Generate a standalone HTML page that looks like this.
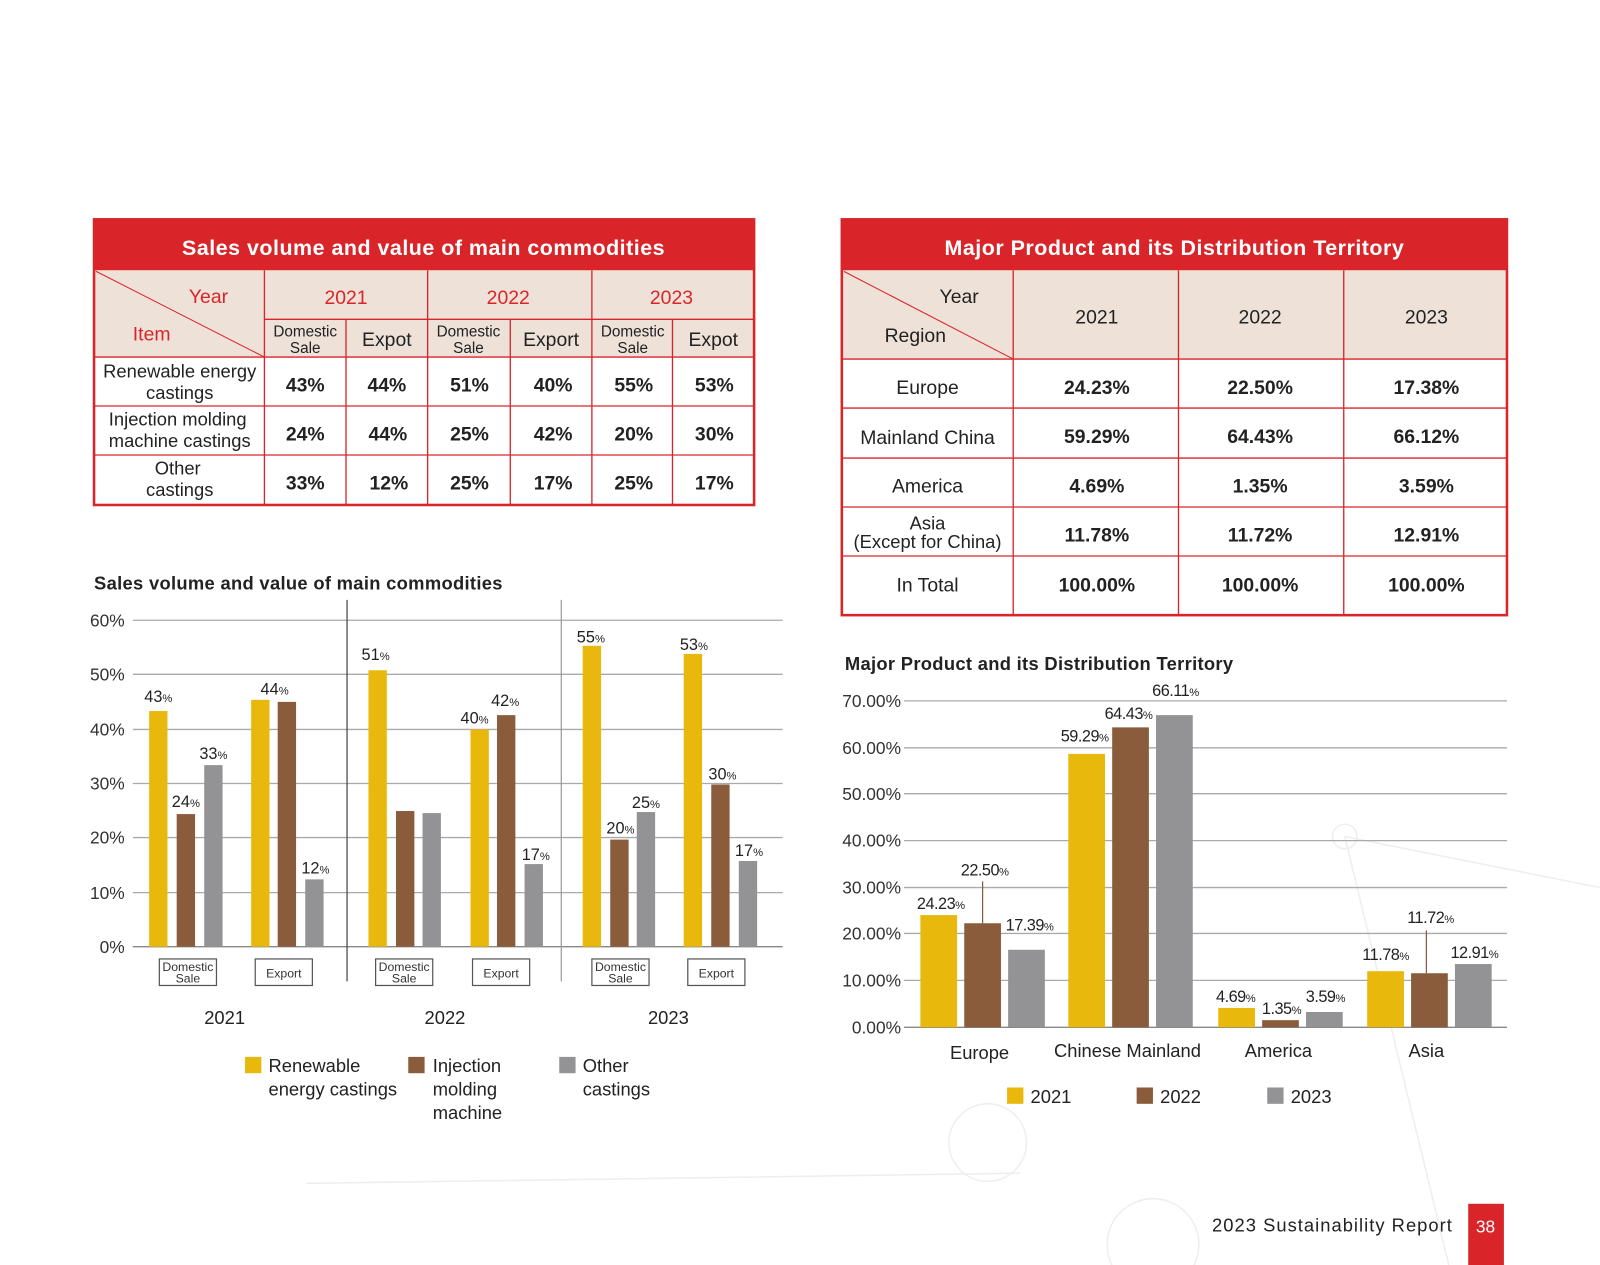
<!DOCTYPE html>
<html><head><meta charset="utf-8"><style>
html,body{margin:0;padding:0;background:#fff;}
svg{display:block;}
text{font-family:"Liberation Sans",sans-serif;}
</style></head><body>
<svg width="1600" height="1265" viewBox="0 0 1568 1240" xmlns="http://www.w3.org/2000/svg">
<rect width="1568" height="1240" fill="#fff"/>
<!-- faint background decoration -->
<g stroke="#eee" fill="none" stroke-width="1.5">
<circle cx="968" cy="1120" r="38"/><circle cx="1130" cy="1220" r="45"/><circle cx="1318" cy="820" r="12"/>
<line x1="1318" y1="820" x2="1568" y2="870"/><line x1="1318" y1="820" x2="1420" y2="1240"/>
<line x1="300" y1="1160" x2="1000" y2="1150"/>
</g>
<!-- TABLE 1 -->
<g>
<rect x="92" y="215" width="647" height="50" fill="#D9252A"/>
<text x="415" y="250" font-size="21" font-weight="bold" fill="#fff" text-anchor="middle" letter-spacing="0.5">Sales volume and value of main commodities</text>
<rect x="92" y="265" width="647" height="85" fill="#EEE1D7"/>
<rect x="92" y="350" width="647" height="145" fill="#fff"/>
<g stroke="#D9252A" stroke-width="1.3" fill="none">
<rect x="92" y="215" width="647" height="280" stroke-width="2.5"/>
<line x1="259" y1="265" x2="259" y2="495"/>
<line x1="419" y1="265" x2="419" y2="495"/>
<line x1="580" y1="265" x2="580" y2="495"/>
<line x1="339" y1="313" x2="339" y2="495"/>
<line x1="500" y1="313" x2="500" y2="495"/>
<line x1="659" y1="313" x2="659" y2="495"/>
<line x1="259" y1="313" x2="739" y2="313"/>
<line x1="92" y1="350" x2="739" y2="350"/>
<line x1="92" y1="398" x2="739" y2="398"/>
<line x1="92" y1="446" x2="739" y2="446"/>
<line x1="94" y1="266" x2="259" y2="350" stroke-width="1"/>
</g>
<g font-size="19" fill="#D9252A">
<text x="185" y="297">Year</text><text x="130" y="334">Item</text>
<text x="339" y="298" text-anchor="middle">2021</text>
<text x="498" y="298" text-anchor="middle">2022</text>
<text x="658" y="298" text-anchor="middle">2023</text>
</g>
<g fill="#222" text-anchor="middle">
<text x="299" y="330" font-size="15">Domestic</text><text x="299" y="346" font-size="15">Sale</text>
<text x="379" y="339" font-size="19">Expot</text>
<text x="459" y="330" font-size="15">Domestic</text><text x="459" y="346" font-size="15">Sale</text>
<text x="540" y="339" font-size="19">Export</text>
<text x="620" y="330" font-size="15">Domestic</text><text x="620" y="346" font-size="15">Sale</text>
<text x="699" y="339" font-size="19">Expot</text>
<g font-size="18">
<text x="176" y="370">Renewable energy</text><text x="176" y="391">castings</text>
<text x="174" y="417">Injection molding</text><text x="176" y="438">machine castings</text>
<text x="174" y="465">Other</text><text x="176" y="486">castings</text>
</g>
<g font-size="19" font-weight="bold">
<text x="299" y="384">43%</text><text x="379" y="384">44%</text><text x="460" y="384">51%</text><text x="542" y="384">40%</text><text x="621" y="384">55%</text><text x="700" y="384">53%</text>
<text x="299" y="432">24%</text><text x="380" y="432">44%</text><text x="460" y="432">25%</text><text x="542" y="432">42%</text><text x="621" y="432">20%</text><text x="700" y="432">30%</text>
<text x="299" y="480">33%</text><text x="381" y="480">12%</text><text x="460" y="480">25%</text><text x="542" y="480">17%</text><text x="621" y="480">25%</text><text x="700" y="480">17%</text>
</g>
</g>
</g>
<!-- TABLE 2 -->
<g>
<rect x="825" y="215" width="652" height="50" fill="#D9252A"/>
<text x="1151" y="250" font-size="21" font-weight="bold" fill="#fff" text-anchor="middle" letter-spacing="0.5">Major Product and its Distribution Territory</text>
<rect x="825" y="265" width="652" height="87" fill="#EEE1D7"/>
<rect x="825" y="352" width="652" height="251" fill="#fff"/>
<g stroke="#D9252A" stroke-width="1.3" fill="none">
<rect x="825" y="215" width="652" height="388" stroke-width="2.5"/>
<line x1="993" y1="265" x2="993" y2="603"/>
<line x1="1155" y1="265" x2="1155" y2="603"/>
<line x1="1317" y1="265" x2="1317" y2="603"/>
<line x1="825" y1="352" x2="1477" y2="352"/>
<line x1="825" y1="400" x2="1477" y2="400"/>
<line x1="825" y1="449" x2="1477" y2="449"/>
<line x1="825" y1="497" x2="1477" y2="497"/>
<line x1="825" y1="545" x2="1477" y2="545"/>
<line x1="827" y1="266" x2="993" y2="352" stroke-width="1"/>
</g>
<g fill="#222" text-anchor="middle" font-size="19">
<text x="940" y="297">Year</text><text x="897" y="335">Region</text>
<text x="1075" y="317">2021</text><text x="1235" y="317">2022</text><text x="1398" y="317">2023</text>
<text x="909" y="386">Europe</text><text x="909" y="435">Mainland China</text><text x="909" y="483">America</text>
<text x="909" y="519" font-size="18">Asia</text><text x="909" y="537" font-size="18">(Except for China)</text>
<text x="909" y="580">In Total</text>
<g font-weight="bold">
<text x="1075" y="386">24.23%</text><text x="1235" y="386">22.50%</text><text x="1398" y="386">17.38%</text>
<text x="1075" y="434">59.29%</text><text x="1235" y="434">64.43%</text><text x="1398" y="434">66.12%</text>
<text x="1075" y="483">4.69%</text><text x="1235" y="483">1.35%</text><text x="1398" y="483">3.59%</text>
<text x="1075" y="531">11.78%</text><text x="1235" y="531">11.72%</text><text x="1398" y="531">12.91%</text>
<text x="1075" y="580">100.00%</text><text x="1235" y="580">100.00%</text><text x="1398" y="580">100.00%</text>
</g>
</g>
</g>
<!-- CHART 1 -->
<text x="92" y="578" font-size="18" font-weight="bold" fill="#222" letter-spacing="0.3">Sales volume and value of main commodities</text>
<g stroke="#aaa" stroke-width="1.3">
<line x1="130" y1="608" x2="767" y2="608"/><line x1="130" y1="661" x2="767" y2="661"/><line x1="130" y1="715" x2="767" y2="715"/>
<line x1="130" y1="768" x2="767" y2="768"/><line x1="130" y1="821" x2="767" y2="821"/><line x1="130" y1="875" x2="767" y2="875"/>
<line x1="130" y1="928" x2="767" y2="928" stroke="#888"/>
</g>
<line x1="340" y1="588" x2="340" y2="962" stroke="#444" stroke-width="1.2"/>
<line x1="550" y1="588" x2="550" y2="962" stroke="#999" stroke-width="1.2"/>
<g font-size="17" fill="#333" text-anchor="end">
<text x="122" y="614">60%</text><text x="122" y="667">50%</text><text x="122" y="721">40%</text><text x="122" y="774">30%</text><text x="122" y="827">20%</text><text x="122" y="881">10%</text><text x="122" y="934">0%</text>
</g>
<g>
<rect x="146" y="697" width="18" height="231" fill="#E9B80C"/><rect x="173" y="798" width="18" height="130" fill="#8B5C3B"/><rect x="200" y="750" width="18" height="178" fill="#939396"/>
<rect x="246" y="686" width="18" height="242" fill="#E9B80C"/><rect x="272" y="688" width="18" height="240" fill="#8B5C3B"/><rect x="299" y="862" width="18" height="66" fill="#939396"/>
<rect x="361" y="657" width="18" height="271" fill="#E9B80C"/><rect x="388" y="795" width="18" height="133" fill="#8B5C3B"/><rect x="414" y="797" width="18" height="131" fill="#939396"/>
<rect x="461" y="715" width="18" height="213" fill="#E9B80C"/><rect x="487" y="701" width="18" height="227" fill="#8B5C3B"/><rect x="514" y="847" width="18" height="81" fill="#939396"/>
<rect x="571" y="633" width="18" height="295" fill="#E9B80C"/><rect x="598" y="823" width="18" height="105" fill="#8B5C3B"/><rect x="624" y="796" width="18" height="132" fill="#939396"/>
<rect x="670" y="641" width="18" height="287" fill="#E9B80C"/><rect x="697" y="769" width="18" height="159" fill="#8B5C3B"/><rect x="724" y="844" width="18" height="84" fill="#939396"/>
</g>
<g font-size="16" fill="#222" text-anchor="middle">
<text x="155" y="688">43<tspan font-size="11">%</tspan></text>
<text x="182" y="791">24<tspan font-size="11">%</tspan></text>
<text x="209" y="744">33<tspan font-size="11">%</tspan></text>
<text x="269" y="681">44<tspan font-size="11">%</tspan></text>
<text x="309" y="856">12<tspan font-size="11">%</tspan></text>
<text x="368" y="647">51<tspan font-size="11">%</tspan></text>
<text x="465" y="709">40<tspan font-size="11">%</tspan></text>
<text x="495" y="692">42<tspan font-size="11">%</tspan></text>
<text x="525" y="843">17<tspan font-size="11">%</tspan></text>
<text x="579" y="630">55<tspan font-size="11">%</tspan></text>
<text x="608" y="817">20<tspan font-size="11">%</tspan></text>
<text x="633" y="792">25<tspan font-size="11">%</tspan></text>
<text x="680" y="637">53<tspan font-size="11">%</tspan></text>
<text x="708" y="764">30<tspan font-size="11">%</tspan></text>
<text x="734" y="839">17<tspan font-size="11">%</tspan></text>
</g>
<g fill="#fff" stroke="#555" stroke-width="1.2">
<rect x="156" y="940" width="56" height="26"/><rect x="250" y="940" width="56" height="26"/>
<rect x="368" y="940" width="56" height="26"/><rect x="463" y="940" width="56" height="26"/>
<rect x="580" y="940" width="56" height="26"/><rect x="674" y="940" width="56" height="26"/>
</g>
<g font-size="12" fill="#333" text-anchor="middle">
<text x="184" y="952">Domestic</text><text x="184" y="963">Sale</text><text x="278" y="958">Export</text>
<text x="396" y="952">Domestic</text><text x="396" y="963">Sale</text><text x="491" y="958">Export</text>
<text x="608" y="952">Domestic</text><text x="608" y="963">Sale</text><text x="702" y="958">Export</text>
</g>
<g font-size="18" fill="#222" text-anchor="middle">
<text x="220" y="1004">2021</text><text x="436" y="1004">2022</text><text x="655" y="1004">2023</text>
</g>
<rect x="240" y="1036" width="16" height="16" fill="#E9B80C"/>
<rect x="400" y="1036" width="16" height="16" fill="#8B5C3B"/>
<rect x="548" y="1036" width="16" height="16" fill="#939396"/>
<g font-size="18" fill="#222">
<text x="263" y="1051">Renewable</text><text x="263" y="1074">energy castings</text>
<text x="424" y="1051">Injection</text><text x="424" y="1074">molding</text><text x="424" y="1097">machine</text>
<text x="571" y="1051">Other</text><text x="571" y="1074">castings</text>
</g>
<!-- CHART 2 -->
<text x="828" y="657" font-size="18" font-weight="bold" fill="#222" letter-spacing="0.3">Major Product and its Distribution Territory</text>
<g stroke="#aaa" stroke-width="1.3">
<line x1="886" y1="687" x2="1477" y2="687"/><line x1="886" y1="733" x2="1477" y2="733"/><line x1="886" y1="778" x2="1477" y2="778"/>
<line x1="886" y1="824" x2="1477" y2="824"/><line x1="886" y1="870" x2="1477" y2="870"/><line x1="886" y1="915" x2="1477" y2="915"/>
<line x1="886" y1="961" x2="1477" y2="961"/><line x1="886" y1="1007" x2="1477" y2="1007" stroke="#888"/>
</g>
<g font-size="17" fill="#333" text-anchor="end">
<text x="883" y="693">70.00%</text><text x="883" y="739">60.00%</text><text x="883" y="784">50.00%</text><text x="883" y="830">40.00%</text>
<text x="883" y="876">30.00%</text><text x="883" y="921">20.00%</text><text x="883" y="967">10.00%</text><text x="883" y="1013">0.00%</text>
</g>
<g>
<rect x="902" y="897" width="36" height="110" fill="#E9B80C"/><rect x="945" y="905" width="36" height="102" fill="#8B5C3B"/><rect x="988" y="931" width="36" height="76" fill="#939396"/>
<rect x="1047" y="739" width="36" height="268" fill="#E9B80C"/><rect x="1090" y="713" width="36" height="294" fill="#8B5C3B"/><rect x="1133" y="701" width="36" height="306" fill="#939396"/>
<rect x="1194" y="988" width="36" height="19" fill="#E9B80C"/><rect x="1237" y="1000" width="36" height="7" fill="#8B5C3B"/><rect x="1280" y="992" width="36" height="15" fill="#939396"/>
<rect x="1340" y="952" width="36" height="55" fill="#E9B80C"/><rect x="1383" y="954" width="36" height="53" fill="#8B5C3B"/><rect x="1426" y="945" width="36" height="62" fill="#939396"/>
</g>
<line x1="963" y1="864" x2="963" y2="905" stroke="#8B5C3B" stroke-width="1.2"/>
<line x1="1398" y1="912" x2="1398" y2="954" stroke="#8B5C3B" stroke-width="1.2"/>
<g font-size="16" fill="#222" text-anchor="middle" letter-spacing="-0.5">
<text x="922" y="891">24.23<tspan font-size="11">%</tspan></text>
<text x="965" y="858">22.50<tspan font-size="11">%</tspan></text>
<text x="1009" y="912">17.39<tspan font-size="11">%</tspan></text>
<text x="1063" y="727">59.29<tspan font-size="11">%</tspan></text>
<text x="1106" y="705">64.43<tspan font-size="11">%</tspan></text>
<text x="1152" y="682">66.11<tspan font-size="11">%</tspan></text>
<text x="1211" y="982">4.69<tspan font-size="11">%</tspan></text>
<text x="1256" y="994">1.35<tspan font-size="11">%</tspan></text>
<text x="1299" y="982">3.59<tspan font-size="11">%</tspan></text>
<text x="1358" y="941">11.78<tspan font-size="11">%</tspan></text>
<text x="1402" y="905">11.72<tspan font-size="11">%</tspan></text>
<text x="1445" y="939">12.91<tspan font-size="11">%</tspan></text>
</g>
<g font-size="18" fill="#222" text-anchor="middle">
<text x="960" y="1038">Europe</text><text x="1105" y="1036">Chinese Mainland</text><text x="1253" y="1036">America</text><text x="1398" y="1036">Asia</text>
</g>
<rect x="987" y="1066" width="16" height="16" fill="#E9B80C"/><rect x="1114" y="1066" width="16" height="16" fill="#8B5C3B"/><rect x="1242" y="1066" width="16" height="16" fill="#939396"/>
<g font-size="18" fill="#222">
<text x="1010" y="1081">2021</text><text x="1137" y="1081">2022</text><text x="1265" y="1081">2023</text>
</g>
<!-- footer -->
<text x="1424" y="1207" font-size="18" fill="#222" text-anchor="end" letter-spacing="1">2023 Sustainability Report</text>
<rect x="1439" y="1180" width="35" height="60" fill="#D9252A"/>
<text x="1456" y="1208" font-size="17" fill="#fff" text-anchor="middle">38</text>
</svg>
</body></html>
